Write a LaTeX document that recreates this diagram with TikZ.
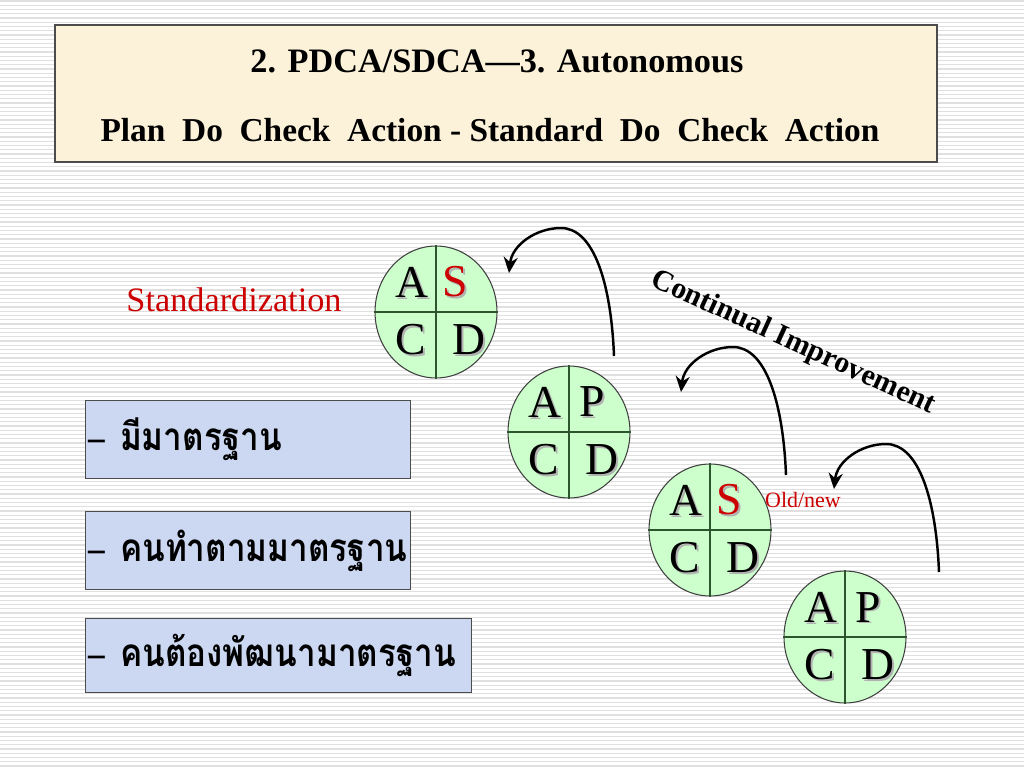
\documentclass[tikz,border=0pt]{standalone}
\usepackage{fontspec}
\setmainfont{Liberation Serif}
\newfontfamily\thaifont[Script=Thai]{Loma}
\usetikzlibrary{arrows.meta,shapes.geometric}
\definecolor{sred}{RGB}{204,0,0}
\definecolor{paper}{RGB}{252,242,218}
\definecolor{mint}{RGB}{204,255,204}
\definecolor{sky}{RGB}{204,216,242}
\definecolor{leaf}{RGB}{45,85,45}
\newcommand{\shd}[1]{\rlap{\kern1.1pt\raisebox{-1.1pt}{\color{black!30}#1}}#1}
\newcommand{\thline}[1]{\scalebox{0.86}[1]{{\rmfamily –}\hspace{10pt}#1}}
\tikzset{>/.tip={Stealth[length=9pt,width=8pt]},
  stripe/.style={black!12,line width=0.6pt},
  head/.style={draw=black!70,fill=paper,line width=0.8pt,minimum width=17.64cm,minimum height=2.74cm,inner sep=0pt},
  wheel/.style={ellipse,draw=black!75,fill=mint,line width=0.6pt,minimum width=2.44cm,minimum height=2.64cm,inner sep=0pt},
  divider/.style={leaf,line width=0.8pt},
  glyph/.style={font=\fontsize{26}{26}\selectfont,inner sep=0pt},
  thaibox/.style={draw=black!70,fill=sky,anchor=west,inner xsep=0.06cm,align=left,font=\thaifont\bfseries\fontsize{22}{26}\selectfont},
  turn/.style={->,line width=1.4pt}}

\begin{document}
\begin{tikzpicture}[x=0.02cm,y=-0.02cm]
\useasboundingbox (0,0) rectangle (1024,768);
\fill[white] (0,0) rectangle (1024,768);
\foreach \k in {0,...,180}
{
  \draw[stripe] (0,{4.25*\k+1}) -- (1024,{4.25*\k+1});
}
\node[head] (head) at (496,93.5) {};
\node[font=\bfseries\fontsize{19.5}{20}\selectfont] (t1) at (497,61) {2. PDCA/SDCA—3. Autonomous};
\node[font=\bfseries\fontsize{19}{19}\selectfont] (t2) at (490,130) {Plan~ Do~ Check~ Action - Standard~ Do~ Check~ Action};
\node[font=\fontsize{19.5}{20}\selectfont,text=sred] (std) at (234,300) {Standardization};
\node[thaibox,text width=6.38cm,minimum height=1.56cm] (m1) at (85,439) {\thline{มีมาตรฐาน}};
\node[thaibox,text width=6.38cm,minimum height=1.56cm] (m2) at (85,550.5) {\thline{คนทำตามมาตรฐาน}};
\node[thaibox,text width=7.6cm,minimum height=1.48cm] (m3) at (85,655) {\thline{คนต้องพัฒนามาตรฐาน}};
\foreach \n/\x/\y/\t/\c/\o in {s1/436/312/S/sred/19, p1/569/432/P/black/23, s2/710/530/S/sred/19, p2/845/637/P/black/23}
{
  \node[wheel] (\n) at (\x,\y) {};
  \draw[divider] (\n.north) -- (\n.south);
  \draw[divider] (\n.west) -- (\n.east);
  \node[glyph] (\n-a) at ({\x-24},{\y-29}) {\shd{A}};
  \node[glyph,text=\c] (\n-t) at ({\x+\o},{\y-29}) {\shd{\t}};
  \node[glyph] (\n-c) at ({\x-25},{\y+29}) {\shd{C}};
  \node[glyph] (\n-d) at ({\x+33},{\y+29}) {\shd{D}};
}
\foreach \i/\dx/\dy in {1/0/0, 2/172/119, 3/325/216}
{
  \coordinate (r\i-s) at ({614+\dx},{356+\dy});
  \coordinate (r\i-p) at ({561+\dx},{228+\dy});
  \coordinate (r\i-e) at ({509+\dx},{273+\dy});
  \draw[turn] (r\i-s) .. controls +(-3,-75) and +(32,0) .. (r\i-p) .. controls +(-25,0) and +(3,-28) .. (r\i-e);
}
\node[font=\fontsize{12.5}{13}\selectfont,text=sred] (old) at (803,500) {Old/new};
\node[font=\bfseries\fontsize{17}{17}\selectfont,rotate=-24.6] (ci) at (793,343) {Continual Improvement};
\end{tikzpicture}
\end{document}
